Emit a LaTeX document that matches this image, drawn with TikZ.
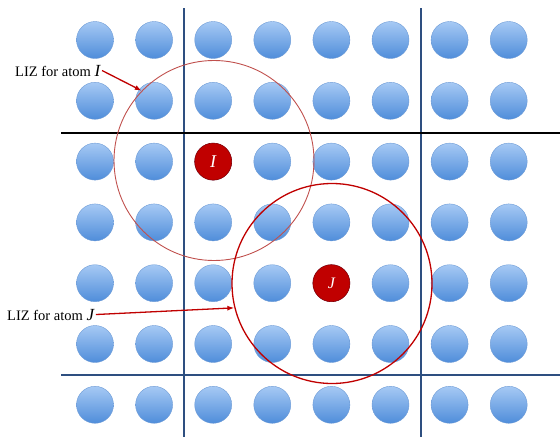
\documentclass[tikz,border=0pt]{standalone}
\usepackage{fontspec}
\setmainfont{Liberation Serif}
\usetikzlibrary{arrows.meta}

\definecolor{atomtop}{HTML}{A6C9F4}
\definecolor{atombot}{HTML}{4F8DDA}
\definecolor{atomedge}{HTML}{6D9BD6}
\definecolor{gridblue}{HTML}{2E4F80}
\definecolor{lizlight}{HTML}{C0504D}
\definecolor{lizdark}{HTML}{C00000}

\newcommand*{\colstep}{59.1}
\newcommand*{\rowstep}{60.8}
\newcommand*{\atomr}{18.5}

\begin{document}
\begin{tikzpicture}
[
	x=1pt, y=-1pt,
	atom/.style={circle,draw=atomedge,thin,top color=atomtop,bottom color=atombot,inner sep=0pt,minimum size=2*\atomr pt},
	special/.style={circle,draw=lizdark!75!black,semithick,fill=lizdark,inner sep=0pt,minimum size=2*\atomr pt,text=white},
	liz/.style={circle,inner sep=0pt,minimum size=200pt},
	pointer/.style={-{Latex[length=7pt,width=5pt]},lizdark,line width=1.3pt},
	lab/.style={inner sep=1pt,font=\fontsize{14.5}{17}\selectfont}
]
	\useasboundingbox (0,0) rectangle (560,437);

	% cell boundaries
	\draw[gridblue,line width=1.3pt] (184,8) -- (184,437);
	\draw[gridblue,line width=1.3pt] (421,8) -- (421,437);
	\draw[black,line width=1.6pt] (61,133) -- (560,133);
	\draw[gridblue,line width=1.3pt] (61,375) -- (560,375);

	% lattice
	\foreach \i in {0,...,7}
		\foreach \j in {0,...,6}
			\node[atom] (a-\i-\j) at (95+\i*\colstep,40+\j*\rowstep) {};

	% atoms I and J
	\node[special,font=\itshape\fontsize{18}{18}\selectfont] (atomI) at (a-2-2) {I};
	\node[special,font=\itshape\fontsize{16}{16}\selectfont] (atomJ) at (a-4-4) {J};

	% local interaction zones
	\node[liz,draw=lizlight,line width=0.9pt] (lizI) at (214,160.5) {};
	\node[liz,draw=lizdark,line width=1.3pt] (lizJ) at (332,283.5) {};

	% labels
	\node[lab,anchor=base west] (labI) at (14,76) {LIZ for atom \textit{\fontsize{17}{17}\selectfont I}};
	\node[lab,anchor=base west] (labJ) at (6,320) {LIZ for atom \textit{\fontsize{17}{17}\selectfont J}};
	\draw[pointer] (labI.east) -- (lizI.136);
	\draw[pointer] (labJ.east) -- (lizJ.194);

\end{tikzpicture}
\end{document}
